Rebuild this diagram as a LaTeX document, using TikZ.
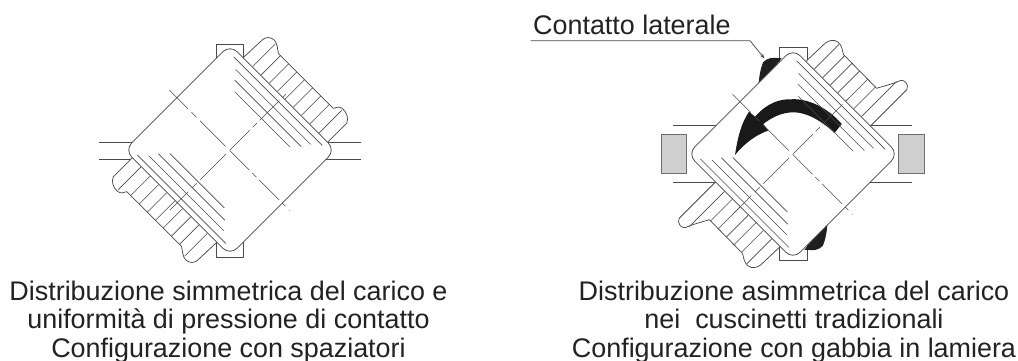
\documentclass[tikz,border=0pt]{standalone}
\usetikzlibrary{arrows.meta}
\usepackage{fontspec}
\setmainfont{Liberation Sans}
\definecolor{ink}{HTML}{4A4A4A}
\definecolor{txt}{HTML}{222222}
\definecolor{boxgrey}{HTML}{CFCFD1}
\tikzset{
  part/.style={draw=ink,line width=0.75pt,line join=round},
  thin part/.style={draw=ink,line width=0.6pt},
  label/.style={text=txt,font=\fontsize{26.9}{28.5}\selectfont,align=center,inner sep=0pt},
  grey box/.style={draw=ink!80,line width=0.8pt,fill=boxgrey},
}
\newcommand{\bodyfill}{%
  \draw[part,fill=white,rounded corners=10pt] (-74.5,-74.5) rectangle (74.5,74.5);
}
\newcommand{\bodylines}{%
  \foreach \a/\p/\q in {68.5/-63/62,61/-53/53,52.8/-46/48,44.5/-37/40}{
    \draw[thin part] (\a,\p) -- (\a,\q);
    \draw[thin part] (-\a-0.5,-\q) -- (-\a-0.5,-\p);
  }
  \foreach \p/\q in {0/28,32/38,42/70,74.5/79,84.5/85,-5.5/-42,-47/-54,-59/-85}{
    \draw[thin part] (-0.5,\p) -- (-0.5,\q);
    \draw[thin part] (\q,0) -- (\p,0);
  }
}
\begin{document}
\begin{tikzpicture}[x=1pt,y=-1pt]
\useasboundingbox (0,0) rectangle (1018,361);
\fill[white] (0,0) rectangle (1018,361);
% ---------- left bearing ----------
\begin{scope}[shift={(230,150)}]
  \draw[part] (-13.7,-106) rectangle (13.7,107);
  \draw[part] (-131,-7.7) -- (131,-7.7);
  \draw[part] (-131,9.3) -- (131,9.3);
  \begin{scope}[rotate=45]
    \foreach \s in {1,-1}{
      \begin{scope}[xscale=\s,yscale=\s]
        \draw[part,fill=white] (74,-56) -- (101.3,-55) .. controls (105,-54.5) and (108.5,-52) .. (109,-47)
          .. controls (109.3,-42) and (105,-38) .. (102.5,-34) -- (102.5,43.6)
          .. controls (104.5,45) and (108,45.5) .. (108.8,50) .. controls (109.5,56) and (106,62) .. (101.4,63.6) -- (74,63.6) -- cycle;
        \foreach \b/\e in {-43/107,-31/102.5,-19.5/102.5,-8/102.5,3/102.5,14.5/102.5,26/102.5,38/102.5,51/107}{
          \draw[thin part] (75,\b) -- (\e,\b);
        }
      \end{scope}
    }
    \bodyfill
    \bodylines
  \end{scope}
\end{scope}
% ---------- right bearing ----------
\draw[grey box] (661.7,134.7) rectangle (686.7,173.3);
\draw[grey box] (898.3,134.7) rectangle (924,173.3);
\begin{scope}[shift={(793,154)}]
  \draw[part] (-14,-106.7) rectangle (14,106.7);
  \draw[part] (-120,-28.5) -- (119,-28.5);
  \draw[part] (-120,28.7) -- (119,28.7);
  \begin{scope}[rotate=45]
    \foreach \s in {1,-1}{
      \begin{scope}[xscale=\s,yscale=\s]
        \fill[black!88] (60,-76) -- (58,-77.4) .. controls (54,-83) and (50,-86) .. (44,-86)
          .. controls (38,-84) and (30,-78) .. (24,-73) -- (24,-70) -- cycle;
        \draw[part,fill=white] (74,-56.4) -- (101,-55.6) .. controls (106,-55) and (110.5,-52) .. (111,-47)
          .. controls (111.3,-42) and (108,-38) .. (106,-34.7) -- (105.6,12.7)
          .. controls (112,16) and (120,21) .. (128,24) .. controls (131.5,26) and (131.5,33) .. (126,35) -- (74,35) -- cycle;
        \foreach \b/\e in {-45/110,-33/106,-22.4/106,-11.6/106,0/106,11/106,22/124.5}{
          \draw[thin part] (75,\b) -- (\e,\b);
        }
      \end{scope}
    }
    \bodyfill
  \end{scope}
  \fill[black!90] (-58,1) .. controls (-55,-18) and (-52,-30) .. (-44,-42.3)
    -- (-38,-37.3) .. controls (-25,-52) and (-12,-55) .. (-2,-54.7) .. controls (15,-56) and (35,-46) .. (48.7,-30)
    -- (41.5,-21) .. controls (30,-32) and (14,-42) .. (0,-41.7) .. controls (-12,-41.5) and (-22,-36) .. (-29.7,-30)
    -- (-24.7,-23.5) .. controls (-38,-19) and (-50,-9) .. (-58,1) -- cycle;
  \begin{scope}[rotate=45]
    \bodylines
  \end{scope}
\end{scope}
% ---------- labels ----------
\node[label,anchor=base west] (cl) at (533,35) {Contatto laterale};
\coordinate (lstart) at (530.7,40.7);
\coordinate (lbend) at (750,40.7);
\coordinate (ltip) at (764.5,58.5);
\draw[part,-{Stealth[length=5pt,width=3.5pt]}] (lstart) -- (lbend) -- (ltip);
\node[label,anchor=base] (t1) at (228.5,357) {Distribuzione simmetrica del carico e\\uniformità di pressione di contatto\\Configurazione con spaziatori};
\node[label,anchor=base] (t2) at (794,357) {Distribuzione asimmetrica del carico\\nei\ \ cuscinetti tradizionali\\Configurazione con gabbia in lamiera};
\end{tikzpicture}
\end{document}
